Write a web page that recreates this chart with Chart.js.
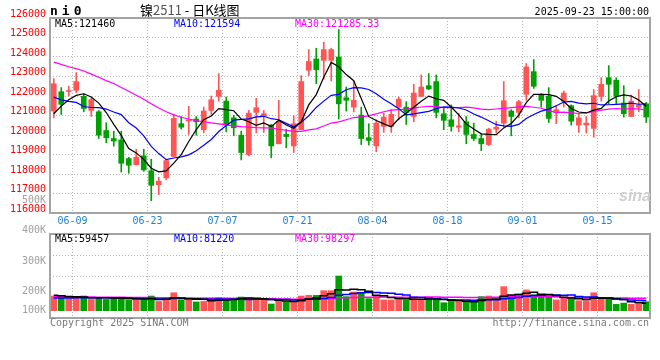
<!DOCTYPE html>
<html>
<head>
<meta charset="utf-8">
<script src="https://cdn.jsdelivr.net/npm/chart.js@4.4.1/dist/chart.umd.min.js"></script>
<style>
  body { margin: 0; background: #fff; }
  #wrap { position: relative; width: 660px; height: 360px; background: #fff; overflow: hidden; }
  canvas { position: absolute; left: 0; }
  .t { position: absolute; font: 10px "DejaVu Sans Mono", monospace; line-height: 12px; white-space: pre; }
  .vl { left: 0; width: 46px; text-align: right; color: #a0a0a0; }
</style>
</head>
<body>
<div id="wrap">
  <canvas id="kChart" width="660" height="228" style="top:0"></canvas>
  <canvas id="volChart" width="660" height="95" style="top:225px"></canvas>

  <div class="t" style="left:50px;top:4px;font-weight:bold;font-size:13px;line-height:14px;letter-spacing:4px">ni0</div>
  <div class="t" style="left:140px;top:2px;font:13px 'Noto Sans CJK SC';line-height:15px">镍<span style="color:#555">2511</span> - 日K线图</div>
  <div class="t" style="right:11px;top:6px">2025-09-23 15:00:00</div>

  <div class="t" style="left:55px;top:18px;color:#000">MA5:121460</div>
  <div class="t" style="left:174px;top:18px;color:#0000ff">MA10:121594</div>
  <div class="t" style="left:295px;top:18px;color:#ff00ff">MA30:121285.33</div>

  <div class="t" style="left:55px;top:233px;color:#000">MA5:59457</div>
  <div class="t" style="left:174px;top:233px;color:#0000ff">MA10:81220</div>
  <div class="t" style="left:295px;top:233px;color:#ff00ff">MA30:98297</div>

  <div class="t vl" style="top:194px">500K</div>
  <div class="t vl" style="top:224px">400K</div>
  <div class="t vl" style="top:255px">300K</div>
  <div class="t vl" style="top:285px">200K</div>
  <div class="t vl" style="top:304px">100K</div>

  <div class="t" style="left:619px;top:187px;font:italic bold 16px 'Liberation Sans';color:#cfcfcf;line-height:18px">sina</div>

  <div class="t" style="left:50px;top:317px;color:#7a7a7a">Copyright 2025 SINA.COM</div>
  <div class="t" style="right:11px;top:317px;color:#7a7a7a">http://finance.sina.com.cn</div>
</div>
<script>
const dates = [
  '06-04','06-05','06-06','06-09','06-10','06-11','06-12','06-13','06-16','06-17','06-18','06-19','06-20','06-23','06-24','06-25','06-26','06-27','06-30',
  '07-01','07-02','07-03','07-04','07-07','07-08','07-09','07-10','07-11','07-14','07-15','07-16','07-17','07-18','07-21','07-22','07-23','07-24','07-25','07-28','07-29','07-30','07-31',
  '08-01','08-04','08-05','08-06','08-07','08-08','08-11','08-12','08-13','08-14','08-15','08-18','08-19','08-20','08-21','08-22','08-25','08-26','08-27','08-28','08-29',
  '09-01','09-02','09-03','09-04','09-05','09-08','09-09','09-10','09-11','09-12','09-15','09-16','09-17','09-18','09-19','09-22','09-23'
];
const tickDates = ['06-09', '06-23', '07-07', '07-21', '08-04', '08-18', '09-01', '09-15'];

const opens = [
  121230,122220,122230,122290,121980,121260,121190,120230,119820,119750,
  118790,118480,118930,118170,117450,117800,118900,120580,120720,120820,
  120270,121260,121980,121740,120880,119990,119000,121160,120950,120510,
  119550,120030,119440,120270,123320,123900,123830,123830,124000,121910,
  121430,121020,119860,119440,120440,120440,121430,121430,120950,121980,
  122530,122740,121090,120780,120400,120680,120030,119820,119510,120300,
  120610,121230,121160,122090,123250,122090,121980,121160,121740,121500,
  120510,120510,120340,121980,122940,122810,121640,120950,121430,121600
];
const highs = [
  122890,122430,122510,123200,122120,121910,121260,120630,120200,120200,
  118860,119270,119270,118760,117830,118740,121060,120950,121470,120950,
  121430,122000,123150,121950,121020,120200,121260,121880,121260,120540,
  121780,120300,120990,123050,124380,124450,124760,124450,125410,122460,
  122770,121430,120580,120780,121120,121300,121950,121710,122600,123080,
  123150,123080,121360,121540,121120,120950,120610,120060,120350,120710,
  122740,121300,121780,123660,123870,122120,122430,121500,122260,121550,
  121060,120950,122330,122940,123560,122940,122530,122050,122330,121670
];
const lows = [
  120880,121050,122000,122170,121190,120950,119820,119600,119430,118100,
  118040,118450,118140,116630,116940,117700,118900,120300,120030,119990,
  120110,121060,121740,120160,119960,118720,118930,120110,120130,118830,
  119550,119340,119100,120270,123050,122630,122870,122770,120820,121230,
  121190,119510,119480,119140,120130,120130,120780,120540,120680,121980,
  122330,120880,120270,120200,120160,119550,119720,119200,119460,120100,
  120400,119960,120880,121780,122390,121430,120640,120580,121430,120510,
  120130,120100,119890,121740,121600,121600,120920,120950,121190,120640
];
const closes = [
  122630,121570,122270,122740,121360,121810,119990,119860,119690,118550,
  118450,118860,118210,117420,117630,118690,120850,120400,120770,120680,
  121230,121810,122290,120510,120370,119100,121120,121400,121090,119440,
  120710,119920,120580,122740,123770,123350,124380,124380,121600,121780,
  121780,119820,119720,120610,120920,121060,121840,121160,122150,122460,
  122360,121160,120750,120440,120470,120030,119820,119550,120300,120400,
  121760,120950,121710,123490,122500,121780,120850,121300,122150,120710,
  120880,120610,122020,122600,122600,121980,121090,121740,121540,120920
];

const ma5 = [
  121090,121480,121810,122030,122114,121950,121634,121152,120542,119980,
  119308,119082,118752,118298,118114,118162,118560,118998,119668,120278,
  120786,120978,121356,121304,121242,120816,120678,120500,120616,120430,
  120752,120512,120348,120678,121544,122072,122964,123724,123496,123098,
  122784,121872,120940,120742,120570,120426,120830,121118,121426,121734,
  121994,121858,121776,121434,121036,120570,120302,120062,120034,120020,
  120366,120592,121024,121662,122082,122086,122066,121984,121716,121358,
  121178,121130,121274,121364,121742,121962,122058,122002,121790,121460
];
const ma10 = [
  121940,121800,121720,121670,121460,121410,121400,121330,121180,121047,
  120629,120358,119952,119420,119047,118735,118821,118875,118983,119196,
  119474,119769,120177,120486,120760,120801,120828,120928,120960,120836,
  120784,120595,120424,120647,120987,121412,121738,122036,122087,122321,
  122428,122418,122332,122119,121834,121605,121351,121029,121084,121152,
  121210,121344,121447,121430,121385,121282,121080,120919,120734,120528,
  120468,120447,120543,120848,121051,121226,121329,121504,121689,121720,
  121632,121598,121629,121540,121550,121570,121594,121638,121577,121594
];
const ma30 = [
  123740,123620,123500,123400,123280,123120,122960,122790,122640,122440,
  122240,122040,121830,121600,121380,121190,121030,120910,120820,120740,
  120680,120620,120575,120520,120470,120430,120400,120380,120370,120360,
  120296,120241,120184,120184,120265,120316,120462,120613,120677,120784,
  120895,120927,120978,121084,121194,121273,121306,121331,121377,121436,
  121474,121452,121401,121399,121402,121433,121390,121328,121302,121334,
  121369,121403,121441,121466,121423,121371,121253,121151,121169,121133,
  121103,121130,121206,121273,121329,121359,121334,121354,121333,121285.33
];

const volumes = [
  116000,100000,95000,111000,116000,89000,105000,89000,105000,100000,
  85000,85000,85000,116000,73000,89000,142000,85000,85000,69000,
  73000,79000,105000,100000,85000,108000,100000,95000,85000,53000,
  79000,69000,73000,116000,121000,121000,158000,158000,274000,111000,
  148000,137000,95000,121000,85000,85000,95000,85000,105000,85000,
  95000,95000,63000,73000,73000,73000,73000,111000,116000,85000,
  190000,121000,132000,164000,126000,111000,111000,85000,100000,95000,
  79000,79000,142000,95000,100000,50000,60000,50000,66000,71000
];
const volMa5 = [
  122000,118000,112000,110000,107600,102200,103200,102000,100800,97600,
  96800,92800,92000,94200,88800,89600,101000,101000,94800,94000,
  90800,78200,82200,85200,88400,95400,99600,97600,94600,88200,
  82400,76200,71800,78000,91600,100000,117800,134800,166400,164400,
  169800,165600,153000,122400,117200,104600,96200,94200,91000,91000,
  93000,93000,88600,82200,79800,75400,71000,80600,89200,91600,
  115000,124600,128800,138400,146600,130800,128800,119400,106600,100400,
  94000,87600,99000,98000,99000,93200,89400,71000,65200,59457
];
const volMa10 = [
  100000,101000,101000,102000,102000,102000,103000,103000,103000,102600,
  99500,98000,97000,97500,93200,93200,96900,96500,94500,91400,
  90200,89600,91600,90000,91200,93100,88900,89900,89900,88300,
  88900,87900,84700,86300,89900,91200,97000,103300,122200,128000,
  134900,141700,143900,144400,140800,137200,130900,123600,106700,104100,
  98800,94600,91400,86600,85400,84200,82000,84600,85700,85700,
  95200,97800,104700,113800,119100,122900,126700,124100,122500,123500,
  112400,108200,109200,102300,99700,93600,88500,85000,81600,81220
];
const volMa30 = [
  110000,110000,109000,109000,108000,108000,107000,107000,106000,106000,
  105000,105000,104000,104000,103000,103000,102000,101000,100000,99000,
  98000,98000,97000,97000,96000,96000,95000,95000,95000,94100,
  92900,91800,91100,91300,91400,92500,94300,96600,102200,102600,
  104700,106400,106700,106900,107300,107200,105600,105600,106300,106800,
  107500,108100,106700,105800,105400,104200,103300,103800,104900,105900,
  109600,111400,113300,114900,115100,114800,113200,110800,105000,104400,
  102100,100200,101800,100900,101400,100200,99800,99200,98700,98297
];

const UP = '#ff5555';
const DOWN = '#00a000';
const GRID = '#b4b4b4';
const candleColors = closes.map((c, i) => c >= opens[i] ? UP : DOWN);
const tickFont = { family: 'DejaVu Sans Mono', size: 10 };

// volume axis: zero sits a few pixels above the panel bottom, like the original
const VOL_MIN = -57700;
const VOL_MAX = 606000;

Chart.defaults.animation = false;

// grey frame round the plot area
const frame = {
  id: 'frame',
  afterDraw(chart) {
    const { ctx, chartArea: a } = chart;
    ctx.save();
    ctx.strokeStyle = '#a4a4a4';
    ctx.lineWidth = 2;
    ctx.strokeRect(a.left, a.top, a.right - a.left, a.bottom - a.top);
    ctx.restore();
  }
};

const xGrid = {
  offset: true,
  drawTicks: false,
  color: c => tickDates.includes(dates[c.index]) ? GRID : 'rgba(0,0,0,0)'
};

const maLine = (data, color, extra) => Object.assign({
  type: 'line', data: data, borderColor: color, borderWidth: 1.2,
  pointRadius: 0, tension: 0, order: 1
}, extra || {});

new Chart(document.getElementById('kChart'), {
  data: {
    labels: dates,
    datasets: [
      maLine(ma5, '#000000'),
      maLine(ma10, '#0000ff'),
      maLine(ma30, '#ff00ff'),
      {
        type: 'bar', label: 'body',
        data: opens.map((o, i) => [o, closes[i]]),
        backgroundColor: candleColors,
        barThickness: 5, grouped: false, minBarLength: 1, order: 2
      },
      {
        type: 'bar', label: 'wick',
        data: lows.map((l, i) => [l, highs[i]]),
        backgroundColor: candleColors,
        barThickness: 1, grouped: false, order: 3
      }
    ]
  },
  options: {
    responsive: false,
    devicePixelRatio: 1,
    layout: { padding: { top: 18, right: 10, bottom: 0, left: 0 } },
    plugins: { legend: { display: false }, tooltip: { enabled: false } },
    scales: {
      x: {
        type: 'category',
        offset: true,
        grid: xGrid,
        border: { display: false, dash: [1, 2] },
        ticks: {
          autoSkip: false, maxRotation: 0, color: '#1e82d2', font: tickFont,
          padding: 2, labelOffset: -3.75,
          callback: (v, i) => tickDates.includes(dates[i]) ? dates[i] : ''
        },
        afterFit: s => { s.height = 15; }
      },
      y: {
        min: 116000, max: 126000,
        grid: { color: GRID, drawTicks: false },
        border: { display: false, dash: [1, 2] },
        ticks: {
          stepSize: 1000, color: '#ff0000', font: tickFont, padding: 4, labelOffset: -4,
          callback: v => String(v)
        },
        afterFit: s => { s.width = 50; }
      }
    }
  },
  plugins: [frame]
});

new Chart(document.getElementById('volChart'), {
  data: {
    labels: dates,
    datasets: [
      maLine(volMa5, '#000000', { stepped: 'middle', borderWidth: 1.5 }),
      maLine(volMa10, '#0000ff', { stepped: 'middle', borderWidth: 1.5 }),
      maLine(volMa30, '#ff00ff', { stepped: 'middle', borderWidth: 1.5 }),
      {
        type: 'bar', label: 'volume', data: volumes,
        backgroundColor: candleColors, barThickness: 6, order: 2
      }
    ]
  },
  options: {
    responsive: false,
    devicePixelRatio: 1,
    layout: { padding: { top: 9, right: 10, bottom: 2, left: 0 } },
    plugins: { legend: { display: false }, tooltip: { enabled: false } },
    scales: {
      x: {
        type: 'category',
        offset: true,
        grid: xGrid,
        border: { display: false, dash: [1, 2] },
        ticks: { display: false },
        afterFit: s => { s.height = 0; }
      },
      y: {
        min: VOL_MIN, max: VOL_MAX,
        afterBuildTicks: s => {
          s.ticks = [0, 1, 2, 3, 4].map(j => ({ value: VOL_MIN + j * (VOL_MAX - VOL_MIN) / 4 }));
        },
        grid: { color: GRID, drawTicks: false },
        border: { display: false, dash: [1, 2] },
        ticks: { display: false },
        afterFit: s => { s.width = 50; }
      }
    }
  },
  plugins: [frame]
});
</script>
</body>
</html>
